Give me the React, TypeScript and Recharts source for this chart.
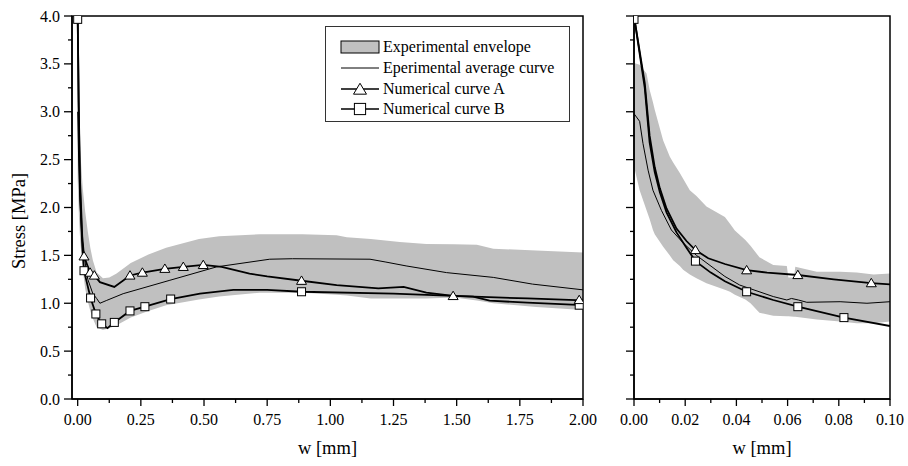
import React from "react";
import { Area, ComposedChart, Legend, Line, ReferenceArea, Scatter, XAxis, YAxis } from "recharts";

const FONT = "'Liberation Serif', 'Times New Roman', serif";

// full range panel: [w (mm), stress (MPa)]
const leftEnvelope = [
  [0, 2.3, 3.5], [0.005, 1.9, 3.0], [0.01, 1.65, 2.6], [0.02, 1.35, 2.2],
  [0.03, 1.15, 1.95], [0.04, 1.02, 1.75], [0.05, 0.92, 1.58], [0.06, 0.84, 1.45],
  [0.075, 0.75, 1.32], [0.1, 0.72, 1.26], [0.125, 0.74, 1.27], [0.154, 0.77, 1.31],
  [0.21, 0.85, 1.42], [0.28, 0.92, 1.51], [0.35, 0.98, 1.58], [0.48, 1.04, 1.67],
  [0.56, 1.07, 1.7], [0.72, 1.11, 1.72], [0.89, 1.11, 1.72], [1.025, 1.09, 1.71],
  [1.065, 1.08, 1.69], [1.16, 1.05, 1.67], [1.275, 1.05, 1.64], [1.38, 1.05, 1.62],
  [1.49, 1.06, 1.615], [1.58, 1.03, 1.61], [1.645, 1.0, 1.57], [1.815, 0.96, 1.55],
  [2.0, 0.93, 1.53],
];
const leftAverage = [
  [0, 3.0], [0.003, 2.6], [0.008, 2.1], [0.015, 1.75], [0.025, 1.5], [0.04, 1.25],
  [0.06, 1.1], [0.075, 1.05], [0.088, 1.0], [0.115, 1.03], [0.18, 1.1], [0.365, 1.24],
  [0.55, 1.38], [0.76, 1.46], [0.85, 1.465], [1.157, 1.46], [1.22, 1.43], [1.3, 1.39],
  [1.46, 1.32], [1.645, 1.27], [1.8, 1.2], [2.0, 1.14],
];
const leftCurveA = [
  [0, 4.0], [0.004, 3.1], [0.009, 2.3], [0.018, 1.7], [0.025, 1.49], [0.049, 1.32],
  [0.066, 1.29], [0.088, 1.22], [0.145, 1.17], [0.207, 1.29], [0.256, 1.32],
  [0.345, 1.36], [0.418, 1.38], [0.497, 1.4], [0.57, 1.38], [0.68, 1.31], [0.75, 1.28],
  [0.886, 1.235], [1.025, 1.19], [1.19, 1.156], [1.29, 1.17], [1.38, 1.11],
  [1.486, 1.076], [1.78, 1.05], [2.0, 1.03],
];
const leftCurveB = [
  [0, 4.0], [0.004, 3.05], [0.009, 2.2], [0.018, 1.6], [0.025, 1.34], [0.051, 1.055],
  [0.072, 0.888], [0.095, 0.785], [0.118, 0.74], [0.145, 0.8], [0.207, 0.92],
  [0.266, 0.964], [0.368, 1.044], [0.484, 1.1], [0.616, 1.14], [0.75, 1.14],
  [0.886, 1.12], [1.25, 1.1], [1.486, 1.076], [1.565, 1.07], [1.63, 1.027],
  [1.78, 1.006], [2.0, 0.98],
];
const leftMarksA = [
  [0.025, 1.49], [0.049, 1.32], [0.066, 1.29], [0.207, 1.29], [0.256, 1.32],
  [0.345, 1.36], [0.418, 1.38], [0.497, 1.4], [0.886, 1.235], [1.486, 1.076], [1.985, 1.034],
];
const leftMarksB = [
  [0, 3.965], [0.025, 1.34], [0.051, 1.055], [0.072, 0.888], [0.095, 0.785], [0.145, 0.8],
  [0.207, 0.92], [0.266, 0.964], [0.368, 1.044], [0.886, 1.12], [1.985, 0.98],
];

// zoomed panel, w up to 0.1 mm
const rightEnvelope = [
  [0, 2.43, 3.51], [0.0022, 2.18, 3.49], [0.0049, 1.97, 3.4], [0.0061, 1.88, 3.23],
  [0.0074, 1.765, 3.1], [0.0081, 1.72, 3.02], [0.0114, 1.59, 2.7], [0.014, 1.5, 2.53],
  [0.0153, 1.45, 2.47], [0.0179, 1.39, 2.36], [0.0192, 1.35, 2.3], [0.0218, 1.3, 2.18],
  [0.0244, 1.26, 2.12], [0.0283, 1.21, 2.01], [0.0355, 1.14, 1.9], [0.0375, 1.12, 1.83],
  [0.0394, 1.09, 1.76], [0.0435, 1.04, 1.66], [0.0455, 1.0, 1.6], [0.049, 0.9, 1.48],
  [0.0544, 0.87, 1.4], [0.0597, 0.865, 1.39], [0.0603, 0.865, 1.27], [0.0625, 0.86, 1.27],
  [0.063, 0.86, 1.38], [0.0714, 0.83, 1.33], [0.0805, 0.81, 1.33], [0.087, 0.79, 1.32],
  [0.0936, 0.79, 1.3], [0.1, 0.81, 1.31],
];
const rightAverage = [
  [0, 2.98], [0.0022, 2.9], [0.0035, 2.67], [0.0055, 2.39], [0.0074, 2.18], [0.0107, 1.97],
  [0.0146, 1.765], [0.0192, 1.63], [0.0244, 1.5], [0.0355, 1.28], [0.0413, 1.19],
  [0.0544, 1.07], [0.0597, 1.034], [0.0615, 1.05], [0.0642, 1.034], [0.0675, 1.01],
  [0.0805, 1.016], [0.091, 1.0], [0.1, 1.016],
];
const rightCurveA = [
  [0, 4.0], [0.0042, 3.3], [0.0061, 2.75], [0.0081, 2.42], [0.0101, 2.2], [0.0127, 1.99],
  [0.0166, 1.78], [0.0205, 1.65], [0.024, 1.556], [0.029, 1.47], [0.0355, 1.41],
  [0.044, 1.345], [0.052, 1.32], [0.064, 1.295], [0.078, 1.25], [0.0927, 1.21], [0.1, 1.198],
];
const rightCurveB = [
  [0, 4.0], [0.0042, 3.25], [0.0061, 2.68], [0.0081, 2.37], [0.0101, 2.16], [0.0127, 1.95],
  [0.0166, 1.74], [0.0205, 1.58], [0.024, 1.44], [0.03, 1.32], [0.0355, 1.23],
  [0.044, 1.12], [0.0544, 1.034], [0.064, 0.964], [0.082, 0.85], [0.1, 0.762],
];
const rightMarksA = [[0.024, 1.556], [0.044, 1.345], [0.064, 1.295], [0.0927, 1.21]];
const rightMarksB = [[0, 3.965], [0.024, 1.44], [0.044, 1.12], [0.064, 0.964], [0.082, 0.85]];

const stressTicks = [0, 0.25, 0.5, 0.75, 1, 1.25, 1.5, 1.75, 2, 2.25, 2.5, 2.75, 3, 3.25, 3.5, 3.75, 4];
const leftWTicks = [0, 0.125, 0.25, 0.375, 0.5, 0.625, 0.75, 0.875, 1, 1.125, 1.25, 1.375, 1.5, 1.625, 1.75, 1.875, 2];
const rightWTicks = [0, 0.01, 0.02, 0.03, 0.04, 0.05, 0.06, 0.07, 0.08, 0.09, 0.1];

const legendNames = [
  "Experimental envelope",
  "Eperimental average curve",
  "Numerical curve A",
  "Numerical curve B",
];

const pts = (rows) => rows.map(([w, v]) => ({ w, v }));
const band = (rows) => rows.map(([w, lo, hi]) => ({ w, v: [lo, hi] }));

function Triangle({ cx, cy, s = 1 }) {
  return (
    <polygon
      points={`${cx},${cy - 4.8 * s} ${cx - 5 * s},${cy + 3.6 * s} ${cx + 5 * s},${cy + 3.6 * s}`}
      fill="#fff"
      stroke="#000"
      strokeWidth={1}
    />
  );
}

function Square({ cx, cy, s = 1 }) {
  return (
    <rect x={cx - 4 * s} y={cy - 4 * s} width={8 * s} height={8 * s} fill="#fff" stroke="#000" strokeWidth={1} />
  );
}

function AxisTick(props) {
  const { x, y, payload, side, step, digits, labels } = props;
  const v = payload.value;
  const major = Math.abs(v / step - Math.round(v / step)) < 1e-6;
  if (side === "left") {
    const len = major ? 8 : 4;
    return (
      <g>
        <line x1={x} x2={x - len} y1={y} y2={y} stroke="#000" strokeWidth={1.3} />
        {labels && major && (
          <text x={x - 12} y={y} dy="0.35em" textAnchor="end" fontFamily={FONT} fontSize={16} fill="#000">
            {v.toFixed(digits)}
          </text>
        )}
      </g>
    );
  }
  const len = major ? 7 : 4;
  return (
    <g>
      <line x1={x} x2={x} y1={y} y2={y + len} stroke="#000" strokeWidth={1.3} />
      {major && (
        <text x={x} y={y + 26} textAnchor="middle" fontFamily={FONT} fontSize={16} fill="#000">
          {v.toFixed(digits)}
        </text>
      )}
    </g>
  );
}

function LegendSwatch({ i }) {
  if (i === 0) return <rect x={1} y={4} width={38} height={12} fill="#c0c0c0" stroke="#000" strokeWidth={1} />;
  if (i === 1) return <line x1={1} x2={39} y1={10} y2={10} stroke="#000" strokeWidth={1} />;
  return (
    <g>
      <line x1={1} x2={39} y1={10} y2={10} stroke="#000" strokeWidth={1.5} />
      {i === 2 ? <Triangle cx={20} cy={10.5} s={1.3} /> : <Square cx={20} cy={10} s={1.4} />}
    </g>
  );
}

function LegendBox() {
  return (
    <div
      style={{
        width: 245,
        height: 96,
        boxSizing: "border-box",
        border: "1px solid #333",
        padding: "10px 0 0 14px",
        fontFamily: FONT,
        fontSize: 16,
        color: "#000",
        background: "#fff",
      }}
    >
      {legendNames.map((name, i) => (
        <div key={name} style={{ display: "flex", alignItems: "center", height: 20.7 }}>
          <svg width={40} height={20} style={{ display: "block" }}>
            <LegendSwatch i={i} />
          </svg>
          <span style={{ marginLeft: 3, whiteSpace: "nowrap", lineHeight: "20px" }}>{name}</span>
        </div>
      ))}
    </div>
  );
}

const axisLine = { stroke: "#000", strokeWidth: 1.5 };
const labelStyle = { fontFamily: FONT, fontSize: 18.5, fill: "#000" };

function Panel({ width, margin, yWidth, domain, wTicks, wStep, envelope, average, curveA, curveB, marksA, marksB, yLabels, legend }) {
  return (
    <ComposedChart width={width} height={466} margin={margin}>
      <XAxis
        dataKey="w"
        type="number"
        domain={domain}
        ticks={wTicks}
        interval={0}
        allowDataOverflow
        height={67}
        tickSize={0}
        tickMargin={0}
        tickLine={false}
        axisLine={axisLine}
        tick={(p) => <AxisTick {...p} side="bottom" step={wStep} digits={2} />}
        label={{ value: "w [mm]", position: "insideBottom", offset: 12, style: labelStyle }}
      />
      <YAxis
        dataKey="v"
        type="number"
        domain={[0, 4]}
        ticks={stressTicks}
        interval={0}
        allowDataOverflow
        width={yWidth}
        tickSize={0}
        tickMargin={0}
        tickLine={false}
        axisLine={axisLine}
        tick={(p) => <AxisTick {...p} side="left" step={0.5} digits={1} labels={yLabels} />}
        label={
          yLabels
            ? {
                content: () => (
                  <text x={25} y={221} transform="rotate(-90 25 221)" textAnchor="middle" {...labelStyle}>
                    Stress [MPa]
                  </text>
                ),
              }
            : undefined
        }
      />
      <Area data={band(envelope)} dataKey="v" type="linear" fill="#c0c0c0" fillOpacity={1} stroke="none" isAnimationActive={false} />
      <Line data={pts(average)} dataKey="v" type="linear" stroke="#000" strokeWidth={1} dot={false} isAnimationActive={false} />
      <Line data={pts(curveA)} dataKey="v" type="linear" stroke="#000" strokeWidth={1.8} dot={false} isAnimationActive={false} />
      <Line data={pts(curveB)} dataKey="v" type="linear" stroke="#000" strokeWidth={1.8} dot={false} isAnimationActive={false} />
      <Scatter data={pts(marksB)} dataKey="v" shape={(p) => <Square cx={p.cx} cy={p.cy} />} isAnimationActive={false} />
      <Scatter data={pts(marksA)} dataKey="v" shape={(p) => <Triangle cx={p.cx} cy={p.cy} />} isAnimationActive={false} />
      {/* frame round the plot area */}
      <ReferenceArea x1={domain[0]} x2={domain[1]} y1={0} y2={4} fill="none" stroke="#000" strokeWidth={1.5} />
      {legend && (
        <Legend
          layout="vertical"
          align="center"
          verticalAlign="middle"
          content={() => <LegendBox />}
          wrapperStyle={{ left: 325, top: 26, width: 245, height: 96 }}
        />
      )}
    </ComposedChart>
  );
}

export default function App() {
  return (
    <div style={{ position: "absolute", left: 0, top: 0, width: 908, height: 466, background: "#fff", fontFamily: FONT }}>
      <div style={{ position: "absolute", left: 0, top: 0 }}>
        <Panel
          width={600}
          margin={{ top: 16, right: 17, bottom: 0, left: 0 }}
          yWidth={72}
          domain={[-0.0225, 2]}
          wTicks={leftWTicks}
          wStep={0.25}
          envelope={leftEnvelope}
          average={leftAverage}
          curveA={leftCurveA}
          curveB={leftCurveB}
          marksA={leftMarksA}
          marksB={leftMarksB}
          yLabels
          legend
        />
      </div>
      <div style={{ position: "absolute", left: 600, top: 0 }}>
        <Panel
          width={308}
          margin={{ top: 16, right: 18, bottom: 0, left: 0 }}
          yWidth={34}
          domain={[0, 0.1]}
          wTicks={rightWTicks}
          wStep={0.02}
          envelope={rightEnvelope}
          average={rightAverage}
          curveA={rightCurveA}
          curveB={rightCurveB}
          marksA={rightMarksA}
          marksB={rightMarksB}
          yLabels={false}
          legend={false}
        />
      </div>
    </div>
  );
}
